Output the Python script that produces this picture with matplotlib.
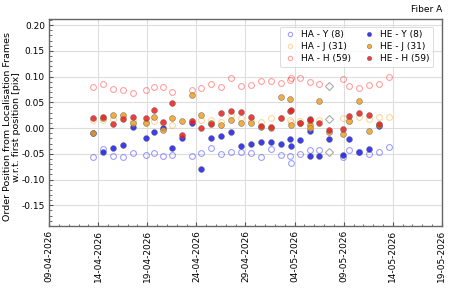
import numpy as np
import pandas as pd
import matplotlib
matplotlib.use("Agg")
import matplotlib.pyplot as plt
import matplotlib.dates as mdates
from matplotlib.ticker import MultipleLocator, FormatStrFormatter

nan = np.nan
dates = pd.to_datetime([
    "2026-04-13 12:00", "2026-04-14 12:45", "2026-04-15 11:30", "2026-04-16 12:00",
    "2026-04-17 12:30", "2026-04-18 21:00", "2026-04-19 16:30", "2026-04-20 15:30",
    "2026-04-21 12:30", "2026-04-22 13:00", "2026-04-23 13:00", "2026-04-24 12:00",
    "2026-04-25 12:30", "2026-04-26 13:00", "2026-04-27 13:30", "2026-04-28 12:15",
    "2026-04-29 12:45", "2026-04-30 13:15", "2026-05-01 13:30", "2026-05-02 14:00",
    "2026-05-03 14:00", "2026-05-03 14:45", "2026-05-04 13:15", "2026-05-05 13:30",
    "2026-05-05 14:15", "2026-05-06 12:15", "2026-05-07 12:45", "2026-05-08 21:20",
    "2026-05-09 13:40", "2026-05-10 12:30", "2026-05-11 13:00", "2026-05-12 13:30",
    "2026-05-13 14:00",
])

ha_y = [-0.056, -0.041, -0.055, -0.057, -0.049, -0.053, -0.049, -0.054, -0.053, nan,
        -0.055, -0.049, -0.038, -0.051, -0.047, -0.046, -0.049, -0.057, -0.041, -0.052,
        -0.054, -0.067, -0.051, -0.043, nan, -0.043, nan, -0.057, -0.043, -0.047,
        -0.050, -0.047, -0.037]
ha_j = [0.016, 0.015, 0.017, 0.022, 0.013, 0.012, 0.013, 0.010, 0.005, nan,
        0.013, 0.016, 0.015, 0.012, 0.026, 0.020, 0.013, 0.011, 0.020, 0.020,
        0.015, 0.012, 0.014, 0.014, nan, 0.015, nan, 0.020, 0.014, 0.022,
        0.017, 0.022, 0.021]
ha_h = [0.080, 0.085, 0.076, 0.073, 0.068, 0.074, 0.080, 0.079, 0.070, nan,
        0.074, 0.077, 0.085, 0.080, 0.097, 0.081, 0.083, 0.091, 0.092, 0.087,
        0.093, 0.097, 0.097, 0.089, nan, 0.085, nan, 0.095, 0.082, 0.078,
        0.084, 0.086, 0.099]
he_y = [-0.009, -0.047, -0.038, -0.033, 0.002, -0.019, -0.008, 0.001, -0.038, -0.020,
        0.010, -0.079, -0.020, -0.016, -0.008, -0.034, -0.030, -0.028, -0.027, -0.031,
        -0.021, -0.034, -0.024, -0.005, -0.055, -0.055, -0.022, -0.052, -0.022, -0.046,
        -0.040, 0.004, nan]
he_j = [-0.010, 0.020, 0.025, 0.025, 0.010, 0.009, 0.021, -0.003, 0.019, 0.014,
        0.065, 0.025, 0.010, 0.005, 0.015, 0.009, 0.009, 0.003, 0.000, 0.060,
        0.056, 0.006, 0.010, 0.006, 0.001, 0.052, -0.007, -0.011, 0.014, 0.053,
        -0.005, 0.005, nan]
he_h = [0.020, 0.022, 0.007, 0.018, 0.021, 0.020, 0.035, 0.012, 0.049, -0.014,
        0.014, 0.000, 0.008, 0.029, 0.034, 0.031, 0.021, 0.004, 0.003, 0.019,
        0.033, 0.035, 0.009, 0.018, 0.016, 0.009, -0.003, -0.001, 0.023, 0.030,
        0.026, 0.008, nan]

flag_dates = pd.to_datetime(["2026-05-07 12:45"] * 3)
flag_vals = [0.081, 0.018, -0.046]

labels = ["HA - Y (8)", "HA - J (31)", "HA - H (59)", "HE - Y (8)", "HE - J (31)", "HE - H (59)"]
ha_cols = ["#2020ff", "#ffa020", "#ff2020"]
he_cols = ["#1a1aee", "#f0a020", "#ee1c1c"]

fig = plt.figure(figsize=(4.5, 3), dpi=100)
ax = fig.add_axes([0.109, 0.247, 0.873, 0.69])

ms = 4.2
for vals, c, lab in zip([ha_y, ha_j, ha_h], ha_cols, labels[:3]):
    ax.plot(dates, vals, 'o', ms=ms, mfc='none', mec=c, alpha=0.42, mew=0.8, label=lab, zorder=3)
ax.plot(flag_dates, flag_vals, 'D', ms=3.8, mfc='none', mec='#aaaaaa', mew=0.8, zorder=3)
for vals, c, lab in zip([he_y, he_j, he_h], he_cols, labels[3:]):
    ax.plot(dates, vals, 'o', ms=ms, mfc=c, mec='#666666', mew=0.4, alpha=0.85, label=lab, zorder=4)

ax.set_xlim(pd.Timestamp("2026-04-09"), pd.Timestamp("2026-05-19"))
ax.set_ylim(-0.19, 0.212)
ticks = pd.date_range("2026-04-09", "2026-05-19", freq="5D")
ax.set_xticks(ticks)
ax.xaxis.set_major_formatter(mdates.DateFormatter("%d-%m-%Y"))
ax.xaxis.set_minor_locator(mdates.DayLocator())
ax.yaxis.set_major_locator(MultipleLocator(0.05))
ax.yaxis.set_minor_locator(MultipleLocator(0.01))
ax.yaxis.set_major_formatter(FormatStrFormatter('%.2f'))
plt.setp(ax.get_xticklabels(), rotation=90)
ax.tick_params(axis='both', which='major', labelsize=6.5, direction='in', length=3, color='#555555', pad=3)
ax.tick_params(axis='both', which='minor', direction='in', length=1.8, color='#555555')
ax.grid(True, which='major', color='#dddddd', lw=0.8)
ax.set_axisbelow(True)
for s in ax.spines.values():
    s.set_color('#666666')
    s.set_linewidth(1.0)

ax.set_ylabel("Order Position from Localisation Frames\nw.r.t. first position [pix]",
              fontsize=6.8, linespacing=0.95)
ax.yaxis.set_label_coords(-0.072, 0.478)
ax.set_title("Fiber A", loc='right', fontsize=6.5, pad=5)

leg = ax.legend(ncol=2, loc='upper right', fontsize=6.5, frameon=True, markerscale=0.75,
                handletextpad=0.5, columnspacing=1.2, borderpad=0.4, labelspacing=0.35,
                handlelength=1.5, bbox_to_anchor=(0.99, 0.985))
leg.get_frame().set_edgecolor('#cccccc')
leg.get_frame().set_linewidth(0.6)

fig.savefig("out.png", dpi=100)
